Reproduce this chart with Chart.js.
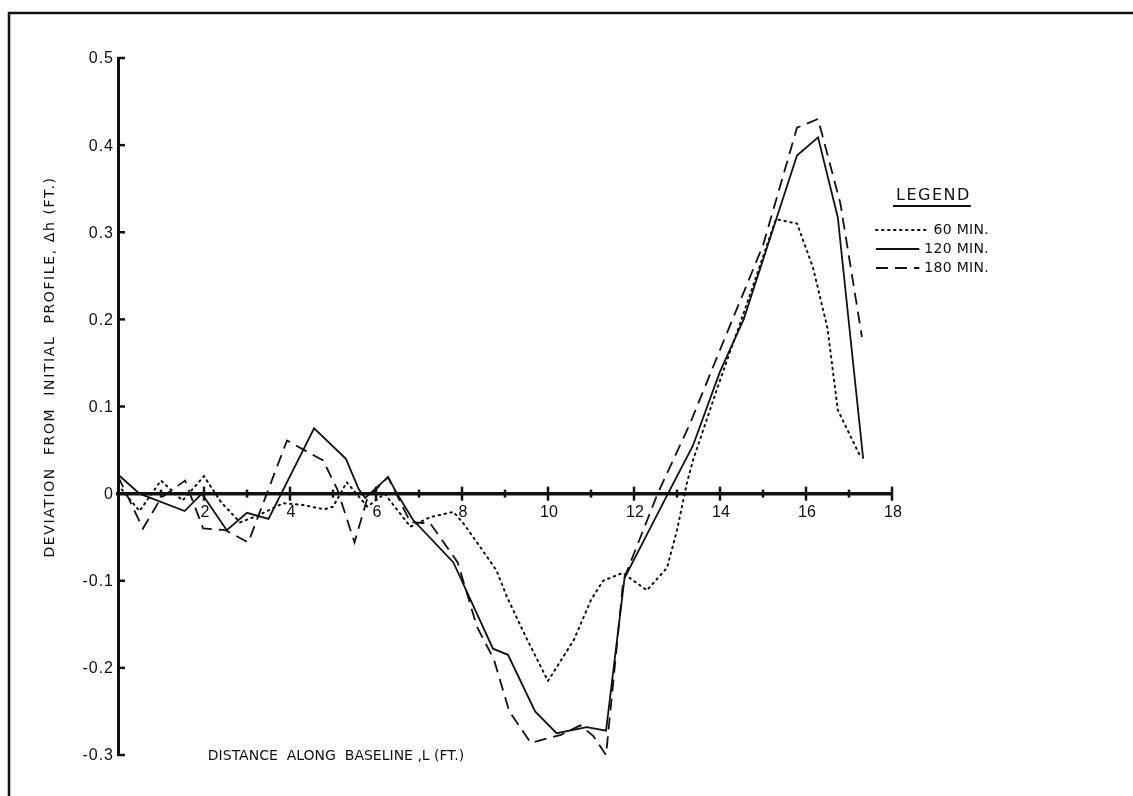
<!DOCTYPE html>
<html>
<head>
<meta charset="utf-8">
<title>Deviation from initial profile</title>
<script src="https://cdn.jsdelivr.net/npm/chart.js@4.4.1/dist/chart.umd.min.js"></script>
<style>
  html, body { margin: 0; padding: 0; background: #ffffff; }
  #wrap { width: 1133px; height: 796px; }
</style>
</head>
<body>
<div id="wrap"><canvas id="chart" width="1133" height="796"></canvas></div>
<script>
// Profile deviation Δh (ft) along the baseline L (ft) after 60, 120 and 180 minutes
const seriesLabels = ['60 MIN.', '120 MIN.', '180 MIN.'];

const x60 = [0, 0.5, 1.0, 1.5, 2.0, 2.4, 2.84, 3.26, 3.84, 4.3, 4.8, 5.0, 5.32, 5.8, 6.2, 6.8, 7.26, 7.8, 8.03, 8.42, 8.8, 9.05, 9.5, 10.0, 10.6, 11.0, 11.28, 11.74, 12.3, 12.77, 13.0, 13.23, 13.37, 14.0, 14.5, 15.3, 15.79, 16.16, 16.5, 16.74, 17.26];
const y60 = [0.01, -0.02, 0.015, -0.008, 0.02, -0.01, -0.033, -0.025, -0.011, -0.013, -0.018, -0.015, 0.013, -0.015, 0.0, -0.038, -0.027, -0.021, -0.034, -0.061, -0.088, -0.119, -0.166, -0.215, -0.168, -0.122, -0.1, -0.091, -0.111, -0.085, -0.042, 0.012, 0.038, 0.13, 0.2, 0.315, 0.31, 0.26, 0.19, 0.096, 0.043];

const x120 = [0, 0.5, 1.55, 1.95, 2.53, 3.0, 3.5, 4.56, 5.3, 5.6, 5.75, 6.28, 6.5, 6.86, 7.8, 8.72, 9.07, 9.7, 10.2, 10.9, 11.35, 11.78, 12.79, 13.37, 14.0, 14.55, 15.79, 16.28, 16.74, 17.33];
const y120 = [0.022, 0.0, -0.02, 0.0, -0.042, -0.022, -0.029, 0.075, 0.04, 0.005, -0.005, 0.019, -0.001, -0.03, -0.079, -0.178, -0.185, -0.25, -0.275, -0.268, -0.272, -0.097, 0.0, 0.055, 0.14, 0.2, 0.388, 0.409, 0.317, 0.04];

const x180 = [0, 0.58, 1.0, 1.56, 1.98, 2.5, 3.03, 3.93, 4.77, 5.1, 5.5, 5.8, 6.28, 6.8, 7.26, 7.9, 8.35, 8.74, 9.1, 9.6, 10.3, 10.75, 11.05, 11.35, 11.75, 12.55, 13.3, 14.0, 14.5, 15.0, 15.79, 16.28, 16.8, 17.3];
const y180 = [0.02, -0.04, -0.005, 0.015, -0.04, -0.042, -0.056, 0.061, 0.038, 0.005, -0.056, -0.005, 0.019, -0.033, -0.034, -0.079, -0.153, -0.19, -0.25, -0.286, -0.277, -0.266, -0.278, -0.3, -0.1, 0.0, 0.08, 0.165, 0.225, 0.285, 0.42, 0.43, 0.333, 0.18];

const xTicks = [0, 1, 2, 3, 4, 5, 6, 7, 8, 9, 10, 11, 12, 13, 14, 15, 16, 17, 18];
const xTickLabels = ['', '', '2', '', '4', '', '6', '', '8', '', '10', '', '12', '', '14', '', '16', '', '18'];
const yTicks = [-0.3, -0.2, -0.1, 0, 0.1, 0.2, 0.3, 0.4, 0.5];
const yTickLabels = ['-0.3', '-0.2', '-0.1', '0', '0.1', '0.2', '0.3', '0.4', '0.5'];

const xTitle = 'DISTANCE  ALONG  BASELINE ,L (FT.)';
const yTitle = 'DEVIATION  FROM  INITIAL  PROFILE, \u0394h (FT.)';
const legendTitle = 'LEGEND';

const pairs = (xs, ys) => xs.map((x, i) => ({ x: x, y: ys[i] }));
const INK = '#111111';
const FONT = '"DejaVu Sans", "Liberation Sans", sans-serif';
const DIGITS = '"Liberation Sans", "DejaVu Sans", sans-serif';

// Axis ticks and labels, titles, page frame and the lettered legend
const draftingPlugin = {
  id: 'drafting',
  afterDraw(chart) {
    const ctx = chart.ctx;
    const xs = chart.scales.x, ys = chart.scales.y;
    const y0 = ys.getPixelForValue(0);
    const xLeft = xs.getPixelForValue(0);
    ctx.save();
    ctx.strokeStyle = INK;
    ctx.fillStyle = INK;
    ctx.lineCap = 'butt';

    // page frame (top and left edges)
    ctx.lineWidth = 2.5;
    ctx.beginPath();
    ctx.moveTo(9, 796);
    ctx.lineTo(9, 13);
    ctx.lineTo(1133, 13);
    ctx.stroke();

    // ticks across the baseline, with labels under the even ones
    ctx.lineWidth = 2.5;
    ctx.font = '16px ' + DIGITS;
    ctx.textAlign = 'center';
    ctx.textBaseline = 'middle';
    xs.ticks.forEach((t, i) => {
      if (t.value === 0) return;
      const px = xs.getPixelForValue(t.value);
      const len = (t.value % 2 === 0) ? 7 : 4;
      ctx.beginPath();
      ctx.moveTo(px, y0 - len);
      ctx.lineTo(px, y0 + len);
      ctx.stroke();
      if (xTickLabels[i]) ctx.fillText(xTickLabels[i], px + 1, y0 + 19);
    });

    // ticks pointing into the plot from the vertical axis, labels to its left
    ctx.textAlign = 'right';
    ctx.letterSpacing = '1px';
    ys.ticks.forEach((t, i) => {
      const py = ys.getPixelForValue(t.value);
      ctx.beginPath();
      ctx.moveTo(xLeft, py);
      ctx.lineTo(xLeft + 7, py);
      ctx.stroke();
      ctx.fillText(yTickLabels[i], xLeft - 4, py + 1);
    });

    // axis titles
    ctx.font = '14px ' + FONT;
    ctx.textAlign = 'center';
    ctx.letterSpacing = '0px';
    ctx.fillText(xTitle, 336, 756);
    ctx.save();
    ctx.translate(50, 367);
    ctx.rotate(-Math.PI / 2);
    ctx.letterSpacing = '1.6px';
    ctx.fillText(yTitle, 0, 0);
    ctx.restore();

    // legend
    ctx.font = '16px ' + FONT;
    ctx.textAlign = 'left';
    ctx.letterSpacing = '1.5px';
    ctx.fillText(legendTitle, 896, 196);
    const lw = ctx.measureText(legendTitle).width;
    ctx.lineWidth = 1.8;
    ctx.beginPath();
    ctx.moveTo(893, 206);
    ctx.lineTo(896 + lw, 206);
    ctx.stroke();

    ctx.font = '14px ' + FONT;
    ctx.letterSpacing = '0.3px';
    ctx.textAlign = 'right';
    const rows = [230, 249, 268];
    chart.data.datasets.forEach((ds, i) => {
      const ty = rows[i];
      ctx.fillText(ds.label, 989, ty);
      const tw = ctx.measureText(ds.label).width;
      ctx.save();
      ctx.lineWidth = ds.borderWidth;
      ctx.lineCap = ds.borderCapStyle || 'butt';
      ctx.setLineDash(ds.borderDash || []);
      ctx.beginPath();
      ctx.moveTo(876, ty);
      ctx.lineTo(989 - tw - 5, ty);
      ctx.stroke();
      ctx.restore();
    });
    ctx.restore();
  }
};

new Chart(document.getElementById('chart'), {
  type: 'scatter',
  data: {
    datasets: [
      { label: seriesLabels[0], data: pairs(x60, y60), showLine: true, borderColor: INK, borderWidth: 2, borderDash: [1.5, 4.5], borderCapStyle: 'round', pointRadius: 0, tension: 0 },
      { label: seriesLabels[1], data: pairs(x120, y120), showLine: true, borderColor: INK, borderWidth: 1.8, borderDash: [], pointRadius: 0, tension: 0 },
      { label: seriesLabels[2], data: pairs(x180, y180), showLine: true, borderColor: INK, borderWidth: 1.8, borderDash: [12, 7], pointRadius: 0, tension: 0 }
    ]
  },
  options: {
    responsive: false,
    animation: false,
    events: [],
    layout: { padding: { left: 0, top: 58, right: 241, bottom: 41 } },
    plugins: { legend: { display: false }, tooltip: { enabled: false }, title: { display: false } },
    scales: {
      x: {
        type: 'linear',
        min: 0, max: 18,
        position: { y: 0 },
        afterBuildTicks: s => { s.ticks = xTicks.map(v => ({ value: v })); },
        ticks: { display: false },
        grid: { drawOnChartArea: false, drawTicks: false },
        border: { display: true, color: INK, width: 3.5 }
      },
      y: {
        type: 'linear',
        min: -0.3, max: 0.5,
        afterFit: s => { s.width = 118; },
        afterBuildTicks: s => { s.ticks = yTicks.map(v => ({ value: v })); },
        ticks: { display: false },
        grid: { drawOnChartArea: false, drawTicks: false },
        border: { display: true, color: INK, width: 3 }
      }
    }
  },
  plugins: [draftingPlugin]
});
</script>
</body>
</html>
